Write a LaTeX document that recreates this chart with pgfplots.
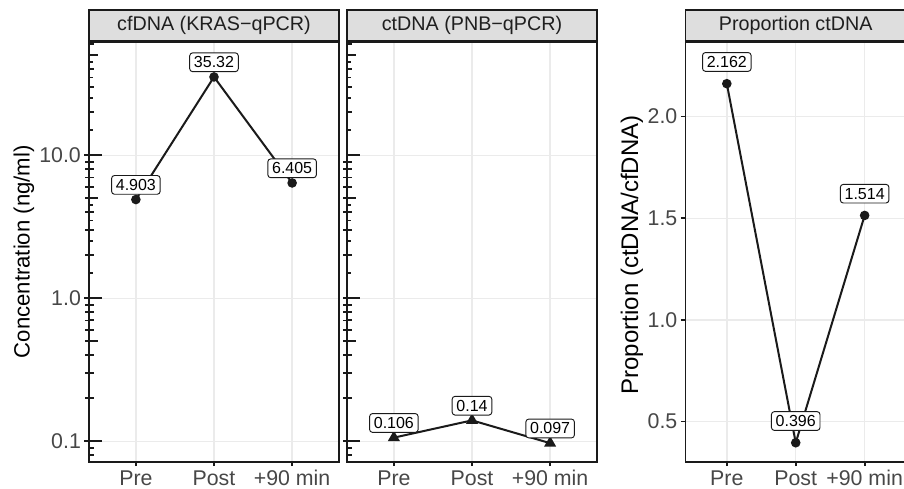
\documentclass[border=0pt]{standalone}
\usepackage{pgfplots}
\pgfplotsset{compat=1.18}
\usepackage{fontspec}
\setmainfont{Liberation Sans}

\definecolor{stripgray}{RGB}{222,222,222}
\definecolor{gridgray}{RGB}{235,235,235}
\definecolor{ink}{RGB}{26,26,26}

\pgfplotsset{
  facet/.style={
    scale only axis, anchor=south west, height=314.75pt,
    xmin=0.4, xmax=3.6, xtick={1,2,3}, xticklabels={Pre,Post,+90 min},
    xmajorgrids, ymajorgrids,
    grid style={line width=1.1pt, gridgray},
    axis line style={line width=1.3pt, ink},
    tick pos=left, tick align=outside, major tick length=3.4pt,
    tick style={line width=1.3pt, ink},
    tick label style={font=\fontsize{16}{19}\selectfont, text=black!72, inner sep=2.5pt},
    xticklabel style={yshift=-0.5pt},
    every axis title/.style={at={(0.5,1)}, anchor=south, draw=ink, line width=1.3pt,
      fill=stripgray, minimum height=23.25pt, inner sep=0pt, text=black!88,
      font=\fontsize{14.8}{17}\selectfont},
    every axis y label/.style={rotate=90, anchor=center, text=black},
    point meta=explicit symbolic,
    nodes near coords,
    nodes near coords align={anchor=center},
    every node near coord/.append style={draw=ink, fill=white, rounded corners=2.2pt,
      line width=0.7pt, inner xsep=3.2pt, inner ysep=2.8pt, text=black,
      font=\fontsize{12}{14}\selectfont},
  },
  series/.style={ink, line width=1.5pt, mark=*, mark size=2.8pt,
    mark options={solid, fill=ink, draw=ink}},
  % annotation_logticks drawn by overlay axes with the same frame
  logframe/.style={scale only axis, anchor=south west, height=314.75pt, width=187.5pt,
    xmin=0.4, xmax=3.6, xtick=\empty, ymin=0.072, ymax=62,
    axis line style={draw=none}, tick pos=left, tick align=inside,
    tick style={line width=1.4pt, ink}, yticklabels={}},
}

\begin{document}
\begin{tikzpicture}
\useasboundingbox (0,0) rectangle (678pt,366.75pt);

% ---- panel 1: cfDNA
\begin{axis}[facet, at={(66.75pt,20.5pt)}, width=187.5pt,
  ymode=log, ymin=0.072, ymax=62,
  ytick={0.1,1,10}, yticklabels={0.1,1.0,10.0},
  title={cfDNA (KRAS−qPCR)}, title style={minimum width=187.5pt},
  ylabel={Concentration (ng/ml)},
  ylabel style={at={(axis description cs:-0.26,0.50)}, font=\fontsize{16.6}{19}\selectfont},
  every node near coord/.append style={yshift=11pt}]
\addplot[series] coordinates {(1,4.903) [4.903] (2,35.32) [35.32] (3,6.405) [6.405]};
\end{axis}
\begin{axis}[ymode=log, logframe, at={(66.75pt,20.5pt)}, ytick={0.1,1,10}, major tick length=9.5pt,
  minor ytick={0.08,0.09,0.2,0.3,0.4,0.6,0.7,0.8,0.9,2,3,4,6,7,8,9,20,30,40,60},
  minor tick length=3.8pt]
\end{axis}
\begin{axis}[ymode=log, logframe, at={(66.75pt,20.5pt)}, ytick={0.5,5,50}, major tick length=6.5pt]
\end{axis}

% ---- panel 2: ctDNA
\begin{axis}[facet, at={(260.25pt,20.5pt)}, width=187.5pt,
  ymode=log, ymin=0.072, ymax=62,
  ytick={0.1,1,10}, yticklabels={}, major y tick style={draw=none},
  title={ctDNA (PNB−qPCR)}, title style={minimum width=187.5pt},
  every node near coord/.append style={yshift=11pt}]
\addplot[series, mark=triangle*, mark size=3.8pt]
  coordinates {(1,0.106) [0.106] (2,0.14) [0.14] (3,0.097) [0.097]};
\end{axis}
\begin{axis}[ymode=log, logframe, at={(260.25pt,20.5pt)}, ytick={0.1,1,10}, major tick length=9.5pt,
  minor ytick={0.08,0.09,0.2,0.3,0.4,0.6,0.7,0.8,0.9,2,3,4,6,7,8,9,20,30,40,60},
  minor tick length=3.8pt]
\end{axis}
\begin{axis}[ymode=log, logframe, at={(260.25pt,20.5pt)}, ytick={0.5,5,50}, major tick length=6.5pt]
\end{axis}

% ---- panel 3: proportion
\begin{axis}[facet, at={(514.1pt,20.5pt)}, width=165.4pt,
  ymin=0.303, ymax=2.367,
  ytick={0.5,1,1.5,2}, yticklabels={0.5,1.0,1.5,2.0},
  title={Proportion ctDNA}, title style={minimum width=165.4pt},
  ylabel={Proportion (ctDNA/cfDNA)},
  ylabel style={at={(axis description cs:-0.2426,0.4925)}, font=\fontsize{18}{21}\selectfont},
  every node near coord/.append style={yshift=16.3pt}]
\addplot[series] coordinates {(1,2.162) [2.162] (2,0.396) [0.396] (3,1.514) [1.514]};
\end{axis}
\end{tikzpicture}
\end{document}
